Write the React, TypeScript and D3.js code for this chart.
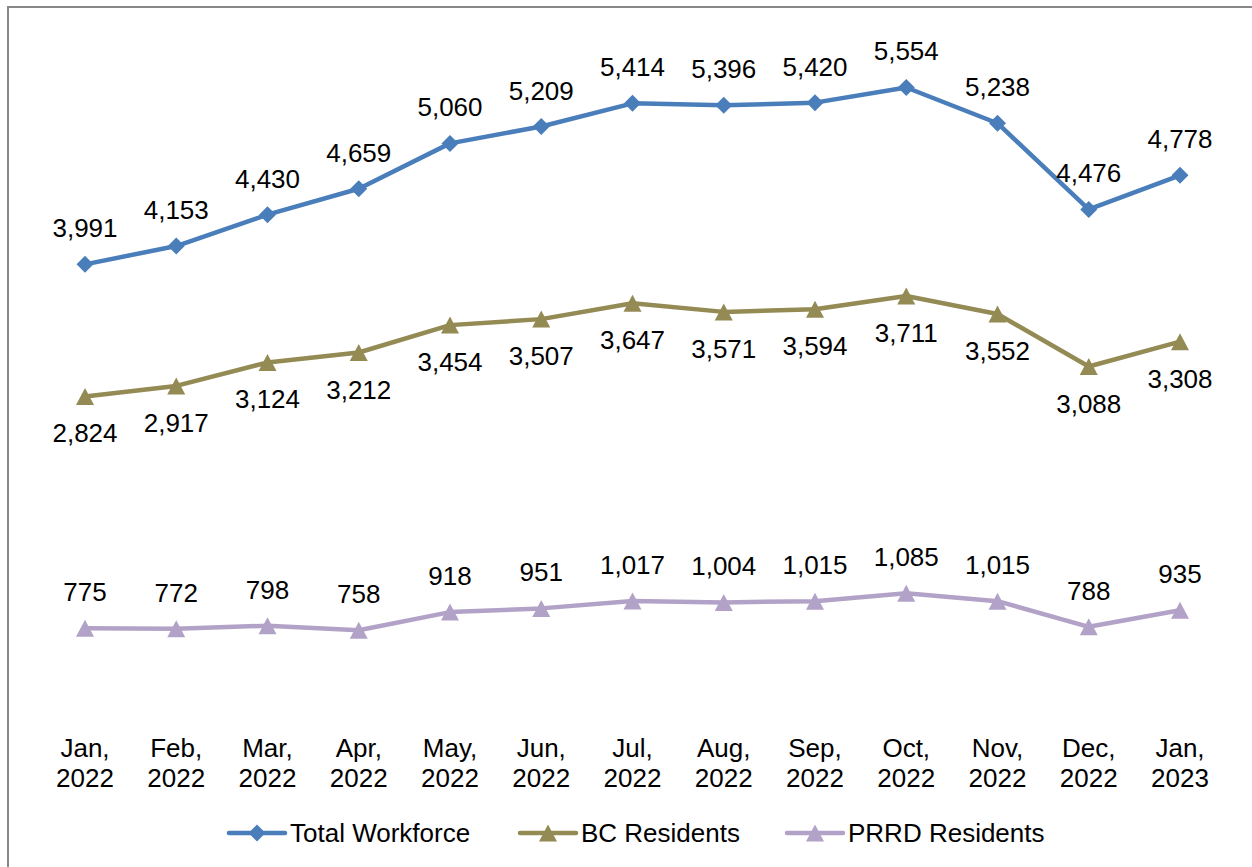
import { useEffect, useRef } from "react";
import * as d3 from "d3";

const months = [
    "Jan, 2022", "Feb, 2022", "Mar, 2022", "Apr, 2022", "May, 2022", "Jun, 2022", "Jul, 2022",
    "Aug, 2022", "Sep, 2022", "Oct, 2022", "Nov, 2022", "Dec, 2022", "Jan, 2023",
];
const totalWorkforce = [3991, 4153, 4430, 4659, 5060, 5209, 5414, 5396, 5420, 5554, 5238, 4476, 4778];
const bcResidents = [2824, 2917, 3124, 3212, 3454, 3507, 3647, 3571, 3594, 3711, 3552, 3088, 3308];
const prrdResidents = [775, 772, 798, 758, 918, 951, 1017, 1004, 1015, 1085, 1015, 788, 935];

type Series = { name: string; values: number[]; color: string; marker: "diamond" | "triangle"; labelDy: number };

const series: Series[] = [
    { name: "Total Workforce", values: totalWorkforce, color: "#4a7ebb", marker: "diamond", labelDy: -27 },
    { name: "BC Residents", values: bcResidents, color: "#948a54", marker: "triangle", labelDy: 46 },
    { name: "PRRD Residents", values: prrdResidents, color: "#b3a2c7", marker: "triangle", labelDy: -27 },
];

const W = 1252;
const H = 867;
const FONT = "'Liberation Sans', Arial, sans-serif";

function markerPath(kind: "diamond" | "triangle") {
    if (kind === "diamond") return "M0,-8.5L8.5,0L0,8.5L-8.5,0Z";
    return "M0,-8.5L9,8.5L-9,8.5Z";
}

export default function App() {
    const ref = useRef<SVGSVGElement | null>(null);

    useEffect(() => {
        if (!ref.current) return;
        const svg = d3.select(ref.current);
        svg.selectAll("*").remove();

        const x = d3.scalePoint<string>().domain(months).range([85, 1180]);
        const y = d3.scaleLinear().domain([0, 6000]).range([716, 37]);
        const fmt = d3.format(",");

        svg.append("rect").attr("width", W).attr("height", H).attr("fill", "#fff");
        svg.append("rect")
            .attr("x", 8).attr("y", 7).attr("width", W + 20).attr("height", H + 20)
            .attr("fill", "none").attr("stroke", "#888").attr("stroke-width", 2);

        // category labels
        const xl = svg.append("g").attr("font-family", FONT).attr("font-size", 26).attr("text-anchor", "middle");
        months.forEach(m => {
            const [mon, yr] = m.split(" ");
            const t = xl.append("text").attr("x", x(m)!).attr("y", 757);
            t.append("tspan").attr("x", x(m)!).text(mon);
            t.append("tspan").attr("x", x(m)!).attr("dy", 30).text(yr);
        });

        const line = d3.line<number>().x((_, i) => x(months[i])!).y(d => y(d));

        series.forEach(s => {
            const g = svg.append("g");
            g.append("path")
                .attr("d", line(s.values)!)
                .attr("fill", "none")
                .attr("stroke", s.color)
                .attr("stroke-width", 4.5)
                .attr("stroke-linejoin", "round")
                .attr("stroke-linecap", "round");
            g.selectAll("path.m")
                .data(s.values)
                .enter()
                .append("path")
                .attr("class", "m")
                .attr("d", markerPath(s.marker))
                .attr("transform", (d, i) => `translate(${x(months[i])},${y(d)})`)
                .attr("fill", s.color);
            g.selectAll("text")
                .data(s.values)
                .enter()
                .append("text")
                .attr("x", (_, i) => x(months[i])!)
                .attr("y", d => y(d) + s.labelDy)
                .attr("text-anchor", "middle")
                .attr("font-family", FONT)
                .attr("font-size", 26)
                .attr("fill", "#000")
                .text(d => fmt(d));
        });

        // legend
        const legendX = [229, 520, 787];
        const legendY = 833;
        series.forEach((s, i) => {
            const g = svg.append("g").attr("transform", `translate(${legendX[i]},${legendY})`);
            g.append("line")
                .attr("x1", 0).attr("x2", 56).attr("y1", 0).attr("y2", 0)
                .attr("stroke", s.color).attr("stroke-width", 4.5).attr("stroke-linecap", "round");
            g.append("path").attr("d", markerPath(s.marker)).attr("transform", "translate(28,0)").attr("fill", s.color);
            g.append("text")
                .attr("x", 61).attr("y", 9)
                .attr("font-family", FONT).attr("font-size", 26)
                .text(s.name);
        });
    }, []);

    return (
        <div style={{ position: "absolute", left: 0, top: 0 }}>
            <svg ref={ref} width={W} height={H} style={{ display: "block" }} />
        </div>
    );
}
